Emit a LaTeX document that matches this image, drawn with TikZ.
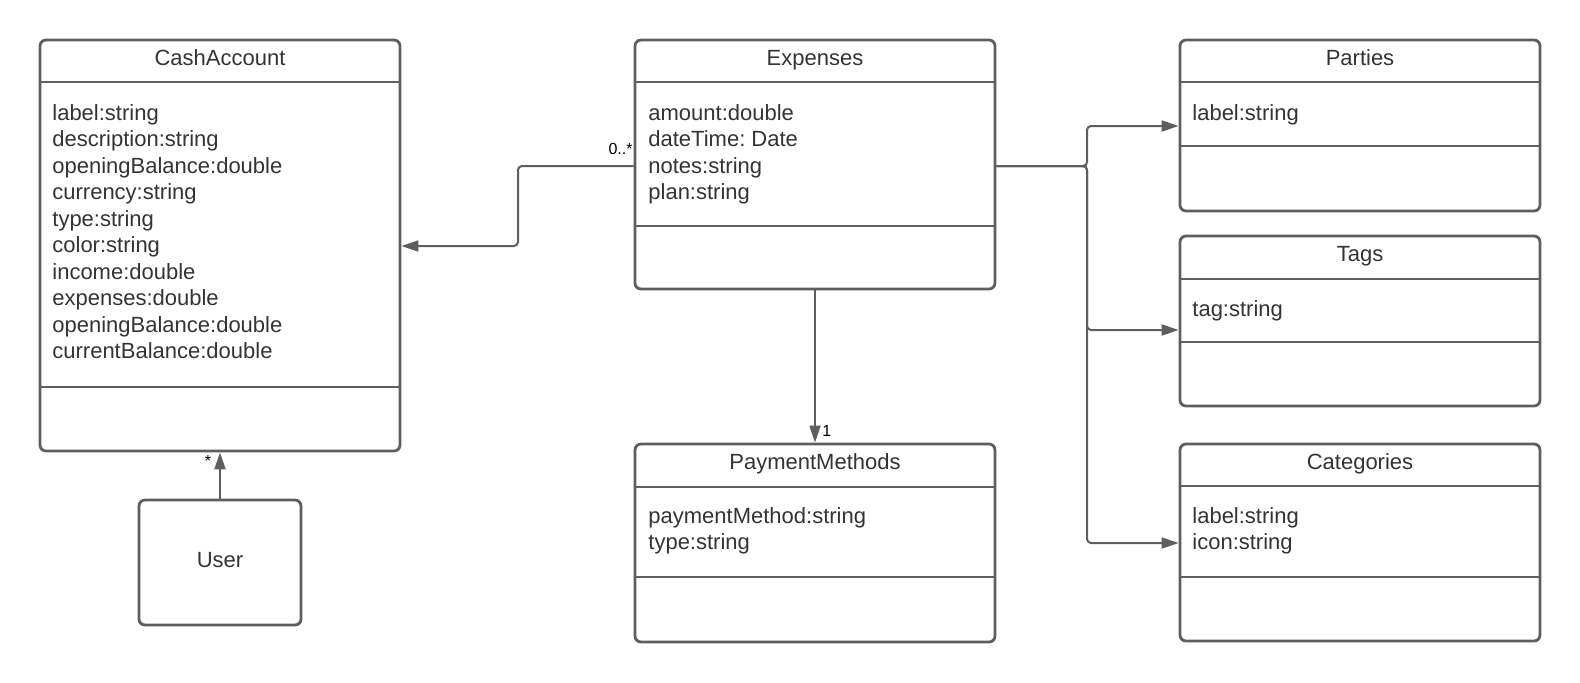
\documentclass[tikz,border=0pt]{standalone}
\usepackage{fontspec}
\setmainfont{Liberation Sans}
\usetikzlibrary{arrows.meta,fit}
\definecolor{ln}{HTML}{5E5E5E}
\definecolor{tx}{HTML}{333333}
\frenchspacing
\newcommand{\umlclass}[8]{%
  \node[cls, fit={(#2,#3)(#4,#5)}] (#1) {};
  \draw[div] (#1.west |- 0,#6) -- (#1.east |- 0,#6);
  \draw[div] (#1.west |- 0,#7) -- (#1.east |- 0,#7);
  \node[ttl] (#1-title) at ({(#2+#4)/2},{#3+25}) {#8};
}
\newcommand{\umlattrs}[4]{%
  \foreach \t [count=\i] in {#4} \node[attr] (#1-a\i) at (#2,{#3+26.5*(\i-1)}) {\t};
}
\begin{document}
\begin{tikzpicture}[x=0.5pt,y=-0.5pt,
  cls/.style={draw=ln, line width=1.4pt, rounded corners=3pt, inner sep=0pt},
  div/.style={draw=ln, line width=1.4pt},
  ttl/.style={anchor=base, inner sep=0pt, text=tx, font=\frenchspacing\fontsize{11}{13}\selectfont},
  attr/.style={anchor=base west, inner sep=0pt, text=tx, font=\frenchspacing\fontsize{11}{13}\selectfont},
  lbl/.style={inner sep=0pt, text=black, font=\fontsize{8}{10}\selectfont},
  conn/.style={draw=ln, line width=1pt, rounded corners=2pt},
  arr/.style={-{Triangle[length=8.5pt,width=5.5pt]}}]
\useasboundingbox (0,0) rectangle (1580,682);

% classes
\umlclass{cash}{40}{40}{400}{451}{82}{387}{CashAccount}
\umlattrs{cash}{52}{120}{label:string,description:string,openingBalance:double,currency:string,type:string,color:string,income:double,expenses:double,openingBalance:double,currentBalance:double}

\umlclass{exp}{635}{40}{995}{289}{82}{226}{Expenses}
\umlattrs{exp}{648}{120}{amount:double,dateTime: Date,notes:string,plan:string}

\umlclass{pay}{635}{444}{995}{642}{487}{577}{PaymentMethods}
\umlattrs{pay}{648}{523}{paymentMethod:string,type:string}

\umlclass{parties}{1180}{40}{1540}{211}{82}{146}{Parties}
\umlattrs{parties}{1192}{120}{label:string}

\umlclass{tags}{1180}{236}{1540}{406}{279}{342}{Tags}
\umlattrs{tags}{1192}{316}{tag:string}

\umlclass{cat}{1180}{444}{1540}{641}{486}{577}{Categories}
\umlattrs{cat}{1192}{523}{label:string,icon:string}

\node[cls, fit={(139,500)(301,625)}] (user) {};
\node[ttl] (user-title) at (220,567) {User};

% connectors
\draw[conn,arr] (exp.west |- 0,166) -- (518,166) -- (518,246) -- (cash.east |- 0,246);
\draw[conn,arr] (exp.south) -- (pay.north);
\draw[conn,arr] (user.north) -- (user.north |- cash.south);
\draw[conn,arr] (exp.east |- 0,166) -- (1087,166) -- (1087,126) -- (parties.west |- 0,126);
\draw[conn,arr] (exp.east |- 0,166) -- (1087,166) -- (1087,330) -- (tags.west |- 0,330);
\draw[conn,arr] (exp.east |- 0,166) -- (1087,166) -- (1087,543) -- (cat.west |- 0,543);

% multiplicities
\node[lbl, anchor=base east] (m0) at (633,154) {0..*};
\node[lbl, anchor=base west] (m1) at (822,436) {1};
\node[lbl, anchor=base] (m2) at (208,466) {*};
\end{tikzpicture}
\end{document}
